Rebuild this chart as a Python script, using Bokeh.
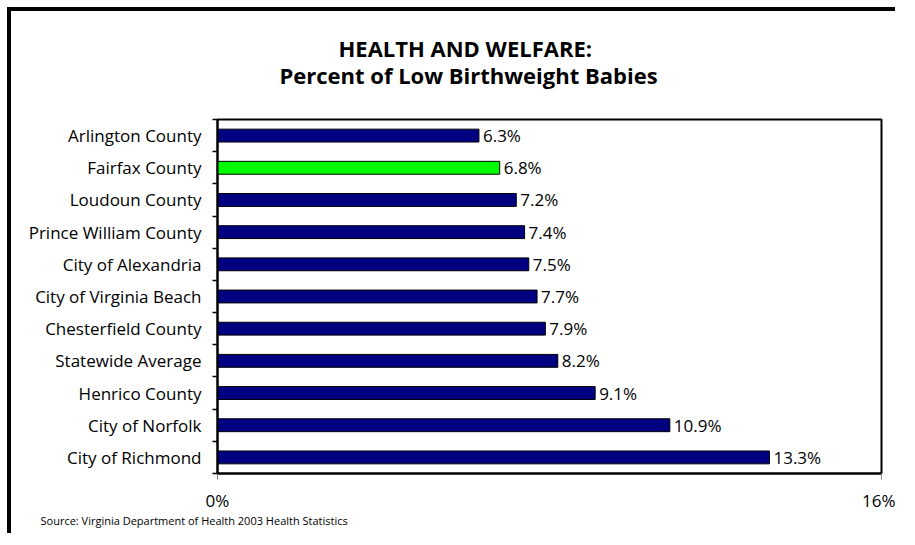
from bokeh.plotting import figure
from bokeh.models import Range1d, LinearAxis, FixedTicker, Title, ColumnDataSource
from bokeh.embed import file_html
from bokeh.resources import INLINE
from bokeh.core.properties import value

categories = ["Arlington County", "Fairfax County", "Loudoun County", "Prince William County",
              "City of Alexandria", "City of Virginia Beach", "Chesterfield County",
              "Statewide Average", "Henrico County", "City of Norfolk", "City of Richmond"]
values = [6.3, 6.8, 7.2, 7.4, 7.5, 7.7, 7.9, 8.2, 9.1, 10.9, 13.3]
highlight = "Fairfax County"
x_ticks = [0, 16]
x_tick_labels = ["0%", "16%"]
title_line1 = "HEALTH AND WELFARE:"
title_line2 = "Percent of Low Birthweight Babies"
source_note = "Source: Virginia Department of Health 2003 Health Statistics"

FONT = "Open Sans"

idx = list(range(len(categories)))
colors = ["#00FF00" if c == highlight else "#000080" for c in categories]
labels = [f"{v:.1f}%" for v in values]
src = ColumnDataSource(dict(y=idx, v=values, c=colors, t=labels))

p = figure(width=888, height=526, output_backend="svg", toolbar_location=None,
           x_range=Range1d(0, 16), y_range=Range1d(len(categories) - 0.5, -0.5),
           x_axis_type=None, y_axis_type=None,
           min_border_left=206, min_border_right=18, min_border_top=108, min_border_bottom=64)
p.styles = {"margin-left": "7px", "margin-top": "7px",
            "border-left": "4px solid black", "border-top": "4px solid black",
            "border-right": "0px none", "border-bottom": "0px none"}
p.background_fill_color = "white"
p.border_fill_color = "white"
p.outline_line_color = "black"
p.outline_line_width = 2
p.xgrid.visible = False
p.ygrid.visible = False

p.hbar(y="y", left=0, right="v", height=0.4, fill_color="c", line_color="black",
       line_width=1, source=src)
p.text(x="v", y="y", text="t", x_offset=4, text_baseline="middle", text_align="left",
       text_font=value(FONT), text_font_size="17px", text_color="black", source=src)

yaxis = LinearAxis(ticker=FixedTicker(ticks=idx, minor_ticks=[i - 0.5 for i in range(len(categories) + 1)]),
                   major_label_overrides={i: c for i, c in zip(idx, categories)})
yaxis.major_tick_line_color = None
yaxis.major_tick_out = 0
yaxis.major_tick_in = 0
yaxis.minor_tick_line_color = "black"
yaxis.minor_tick_line_width = 1.5
yaxis.minor_tick_out = 5
yaxis.minor_tick_in = 0
yaxis.axis_line_color = "black"
yaxis.axis_line_width = 2
yaxis.major_label_standoff = 11
yaxis.major_label_text_font = FONT
yaxis.major_label_text_font_size = "17px"
yaxis.major_label_text_color = "black"
p.add_layout(yaxis, "left")

xaxis = LinearAxis(ticker=FixedTicker(ticks=x_ticks),
                   major_label_overrides={t: l for t, l in zip(x_ticks, x_tick_labels)})
xaxis.axis_line_color = "black"
xaxis.axis_line_width = 2
xaxis.major_tick_line_color = "#888888"
xaxis.major_tick_out = 6
xaxis.major_tick_in = 0
xaxis.minor_tick_line_color = None
xaxis.major_label_standoff = 9
xaxis.major_label_text_font = FONT
xaxis.major_label_text_font_size = "17px"
xaxis.major_label_text_color = "black"
p.add_layout(xaxis, "below")

# spacer between plot frame and the title lines
p.add_layout(Title(text=" ", text_font_size="1px", standoff=32), "above")
p.title.text = title_line1
p.title.align = "left"
p.title.offset = 121
p.title.standoff = 0
p.title.text_font = FONT
p.title.text_font_style = "bold"
p.title.text_font_size = "22px"
p.title.text_color = "black"
p.add_layout(Title(text=title_line2, align="left", offset=62, standoff=-10, text_font=FONT,
                   text_font_style="bold", text_font_size="22px", text_color="black"), "above")
p.add_layout(Title(text=source_note, align="left", offset=-177, standoff=-8, text_font=FONT,
                   text_font_style="normal", text_font_size="11px", text_color="black"), "below")

open("out.html", "w").write(file_html(p, INLINE))
